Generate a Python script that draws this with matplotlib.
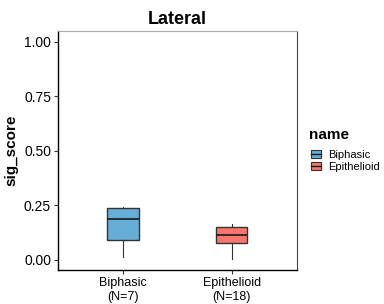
import matplotlib
matplotlib.use('Agg')
import matplotlib.pyplot as plt
from matplotlib.patches import Patch
from matplotlib.lines import Line2D

plt.rcParams['font.family'] = ['Liberation Sans', 'DejaVu Sans']

groups = ['Biphasic', 'Epithelioid']
counts = [7, 18]
colors = ['#67AED6', '#F8766D']
whislo = [0.012, 0.003]
q1 = [0.092, 0.078]
med = [0.187, 0.113]
q3 = [0.240, 0.150]
whishi = [0.245, 0.164]
yticks = [0.00, 0.25, 0.50, 0.75, 1.00]

stats = [
    {'whislo': whislo[i], 'q1': q1[i], 'med': med[i], 'q3': q3[i],
     'whishi': whishi[i], 'fliers': [], 'label': f'{g}\n(N={counts[i]})'}
    for i, g in enumerate(groups)
]

fig = plt.figure(figsize=(3.84, 3.04), dpi=100)
ax = fig.add_axes([0.151, 0.112, 0.622, 0.786])

bp = ax.bxp(stats, positions=[1, 2], widths=0.29, patch_artist=True,
            showcaps=False,
            boxprops=dict(edgecolor='#333333', linewidth=1.0),
            medianprops=dict(color='#1a1a1a', linewidth=1.2),
            whiskerprops=dict(color='#333333', linewidth=0.8))
for box, c in zip(bp['boxes'], colors):
    box.set_facecolor(c)

ax.set_xlim(0.4, 2.6)
ax.set_ylim(-0.046, 1.05)
ax.set_yticks(yticks)
ax.set_yticklabels([f'{v:.2f}' for v in yticks])
ax.tick_params(axis='both', colors='#333333', labelcolor='black', length=3)
ax.tick_params(axis='y', labelsize=10, pad=2)
ax.tick_params(axis='x', labelsize=9, pad=2)
ax.set_ylabel('sig_score', fontsize=11, fontweight='bold', labelpad=4)
ax.set_title('Lateral', fontsize=13, fontweight='bold', pad=5)

for s in ['left', 'bottom']:
    ax.spines[s].set_color('black')
    ax.spines[s].set_linewidth(1.0)
ax.spines['right'].set_color('#444444')
ax.spines['right'].set_linewidth(0.8)
ax.spines['top'].set_color('#aaaaaa')
ax.spines['top'].set_linewidth(0.8)

handles = [(Patch(facecolor=c, edgecolor='#333333', linewidth=0.8),
            Line2D([], [], color='#1a1a1a', linewidth=1.0)) for c in colors]
fig.text(0.805, 0.555, 'name', fontsize=11, fontweight='bold', va='center')
fig.legend(handles, groups, loc='upper left',
           bbox_to_anchor=(0.79, 0.533), frameon=False, fontsize=8,
           handlelength=0.9, handleheight=0.8, handletextpad=0.6,
           labelspacing=0.15, borderpad=0.2)

fig.savefig('out.png', dpi=100)
